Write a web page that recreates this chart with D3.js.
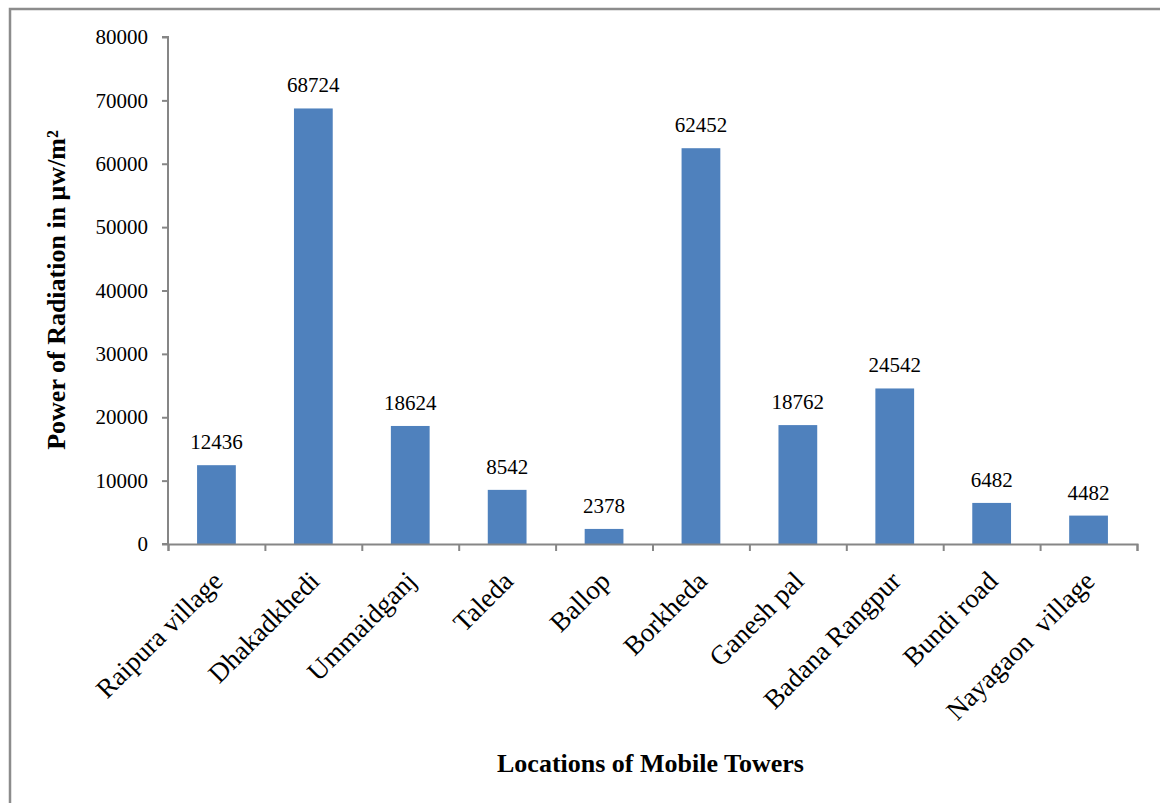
<!DOCTYPE html>
<html>
<head>
<meta charset="utf-8">
<script src="https://cdn.jsdelivr.net/npm/d3@7"></script>
<style>
  body { margin: 0; background: #fff; }
  svg text { font-family: 'Liberation Serif', 'Times New Roman', Times, 'DejaVu Serif', serif; fill: #000; }
</style>
</head>
<body>
<div id="chart"></div>
<script>
// chart data
const locations = ["Raipura village", "Dhakadkhedi", "Ummaidganj", "Taleda", "Ballop",
  "Borkheda", "Ganesh pal", "Badana Rangpur", "Bundi road", "Nayagaon  village"];
const radiation = [12436, 68724, 18624, 8542, 2378, 62452, 18762, 24542, 6482, 4482];
const yTicks = [0, 10000, 20000, 30000, 40000, 50000, 60000, 70000, 80000];

const w = 1160, h = 803;
const margin = {top: 37, right: 23, bottom: 259, left: 168};
const innerWidth = w - margin.left - margin.right;
const innerHeight = h - margin.top - margin.bottom;
const serif = "'Liberation Serif', 'Times New Roman', Times, 'DejaVu Serif', serif";

const svg = d3.select("#chart")
  .append("svg")
  .attr("width", w)
  .attr("height", h)
  .attr("font-family", serif);

// outer frame (only top and left edges visible)
svg.append("path")
  .attr("d", `M10,${h}V9H${w}`)
  .attr("fill", "none")
  .attr("stroke", "#8c8c8c")
  .attr("stroke-width", 2.5);

const g = svg.append("g")
  .attr("transform", `translate(${margin.left},${margin.top})`);

// scales
const xScale = d3.scaleBand()
  .domain(locations)
  .range([0, innerWidth])
  .paddingInner(0.6)
  .paddingOuter(0.3);

const yScale = d3.scaleLinear()
  .domain([0, 80000])
  .range([innerHeight, 0]);

// bars
g.selectAll("rect.bar")
  .data(radiation)
  .enter()
  .append("rect")
  .attr("class", "bar")
  .attr("x", (d, i) => xScale(locations[i]))
  .attr("y", d => yScale(d))
  .attr("width", xScale.bandwidth())
  .attr("height", d => innerHeight - yScale(d))
  .attr("fill", "#4f81bd");

// value labels
g.selectAll("text.val")
  .data(radiation)
  .enter()
  .append("text")
  .attr("class", "val")
  .attr("x", (d, i) => xScale(locations[i]) + xScale.bandwidth() / 2)
  .attr("y", d => yScale(d) - 16)
  .attr("text-anchor", "middle")
  .style("font-size", "21px")
  .text(d => d);

// y axis
const yAxis = d3.axisLeft(yScale).tickValues(yTicks).tickSize(6).tickPadding(14).tickFormat(d => d);
const yAxisG = g.append("g").call(yAxis).attr("font-family", serif);
yAxisG.selectAll("text").style("font-size", "21px");

// x axis with ticks at band edges
const step = xScale.step();
const edges = d3.range(locations.length + 1).map(i => i * step);
const xEdge = d3.scaleLinear().domain([0, innerWidth]).range([0, innerWidth]);
const xAxisG = g.append("g")
  .attr("transform", `translate(0,${innerHeight})`)
  .call(d3.axisBottom(xEdge).tickValues(edges).tickSize(7).tickFormat(""));

[yAxisG, xAxisG].forEach(a => {
  a.select(".domain").attr("stroke", "#868686").attr("stroke-width", 2);
  a.selectAll(".tick line").attr("stroke", "#868686").attr("stroke-width", 2);
});
yAxisG.select(".domain").attr("d", `M-6,${innerHeight}H0V0H-6`);

// category labels
g.selectAll("text.cat")
  .data(locations)
  .enter()
  .append("text")
  .attr("class", "cat")
  .attr("transform", d => `translate(${xScale(d) + xScale.bandwidth() / 2 + 1},${innerHeight + 32}) rotate(-45)`)
  .attr("text-anchor", "end")
  .attr("dy", "0.35em")
  .style("font-size", "27px")
  .style("white-space", "pre")
  .text(d => d);

// axis titles
svg.append("text")
  .attr("x", margin.left + innerWidth / 2 - 2)
  .attr("y", 772)
  .attr("text-anchor", "middle")
  .style("font-size", "26px")
  .style("font-weight", "bold")
  .text("Locations of Mobile Towers");

svg.append("text")
  .attr("transform", "translate(65,290) rotate(-90)")
  .attr("text-anchor", "middle")
  .style("font-size", "26px")
  .style("font-weight", "bold")
  .text("Power of Radiation in μw/m²");
</script>
</body>
</html>
